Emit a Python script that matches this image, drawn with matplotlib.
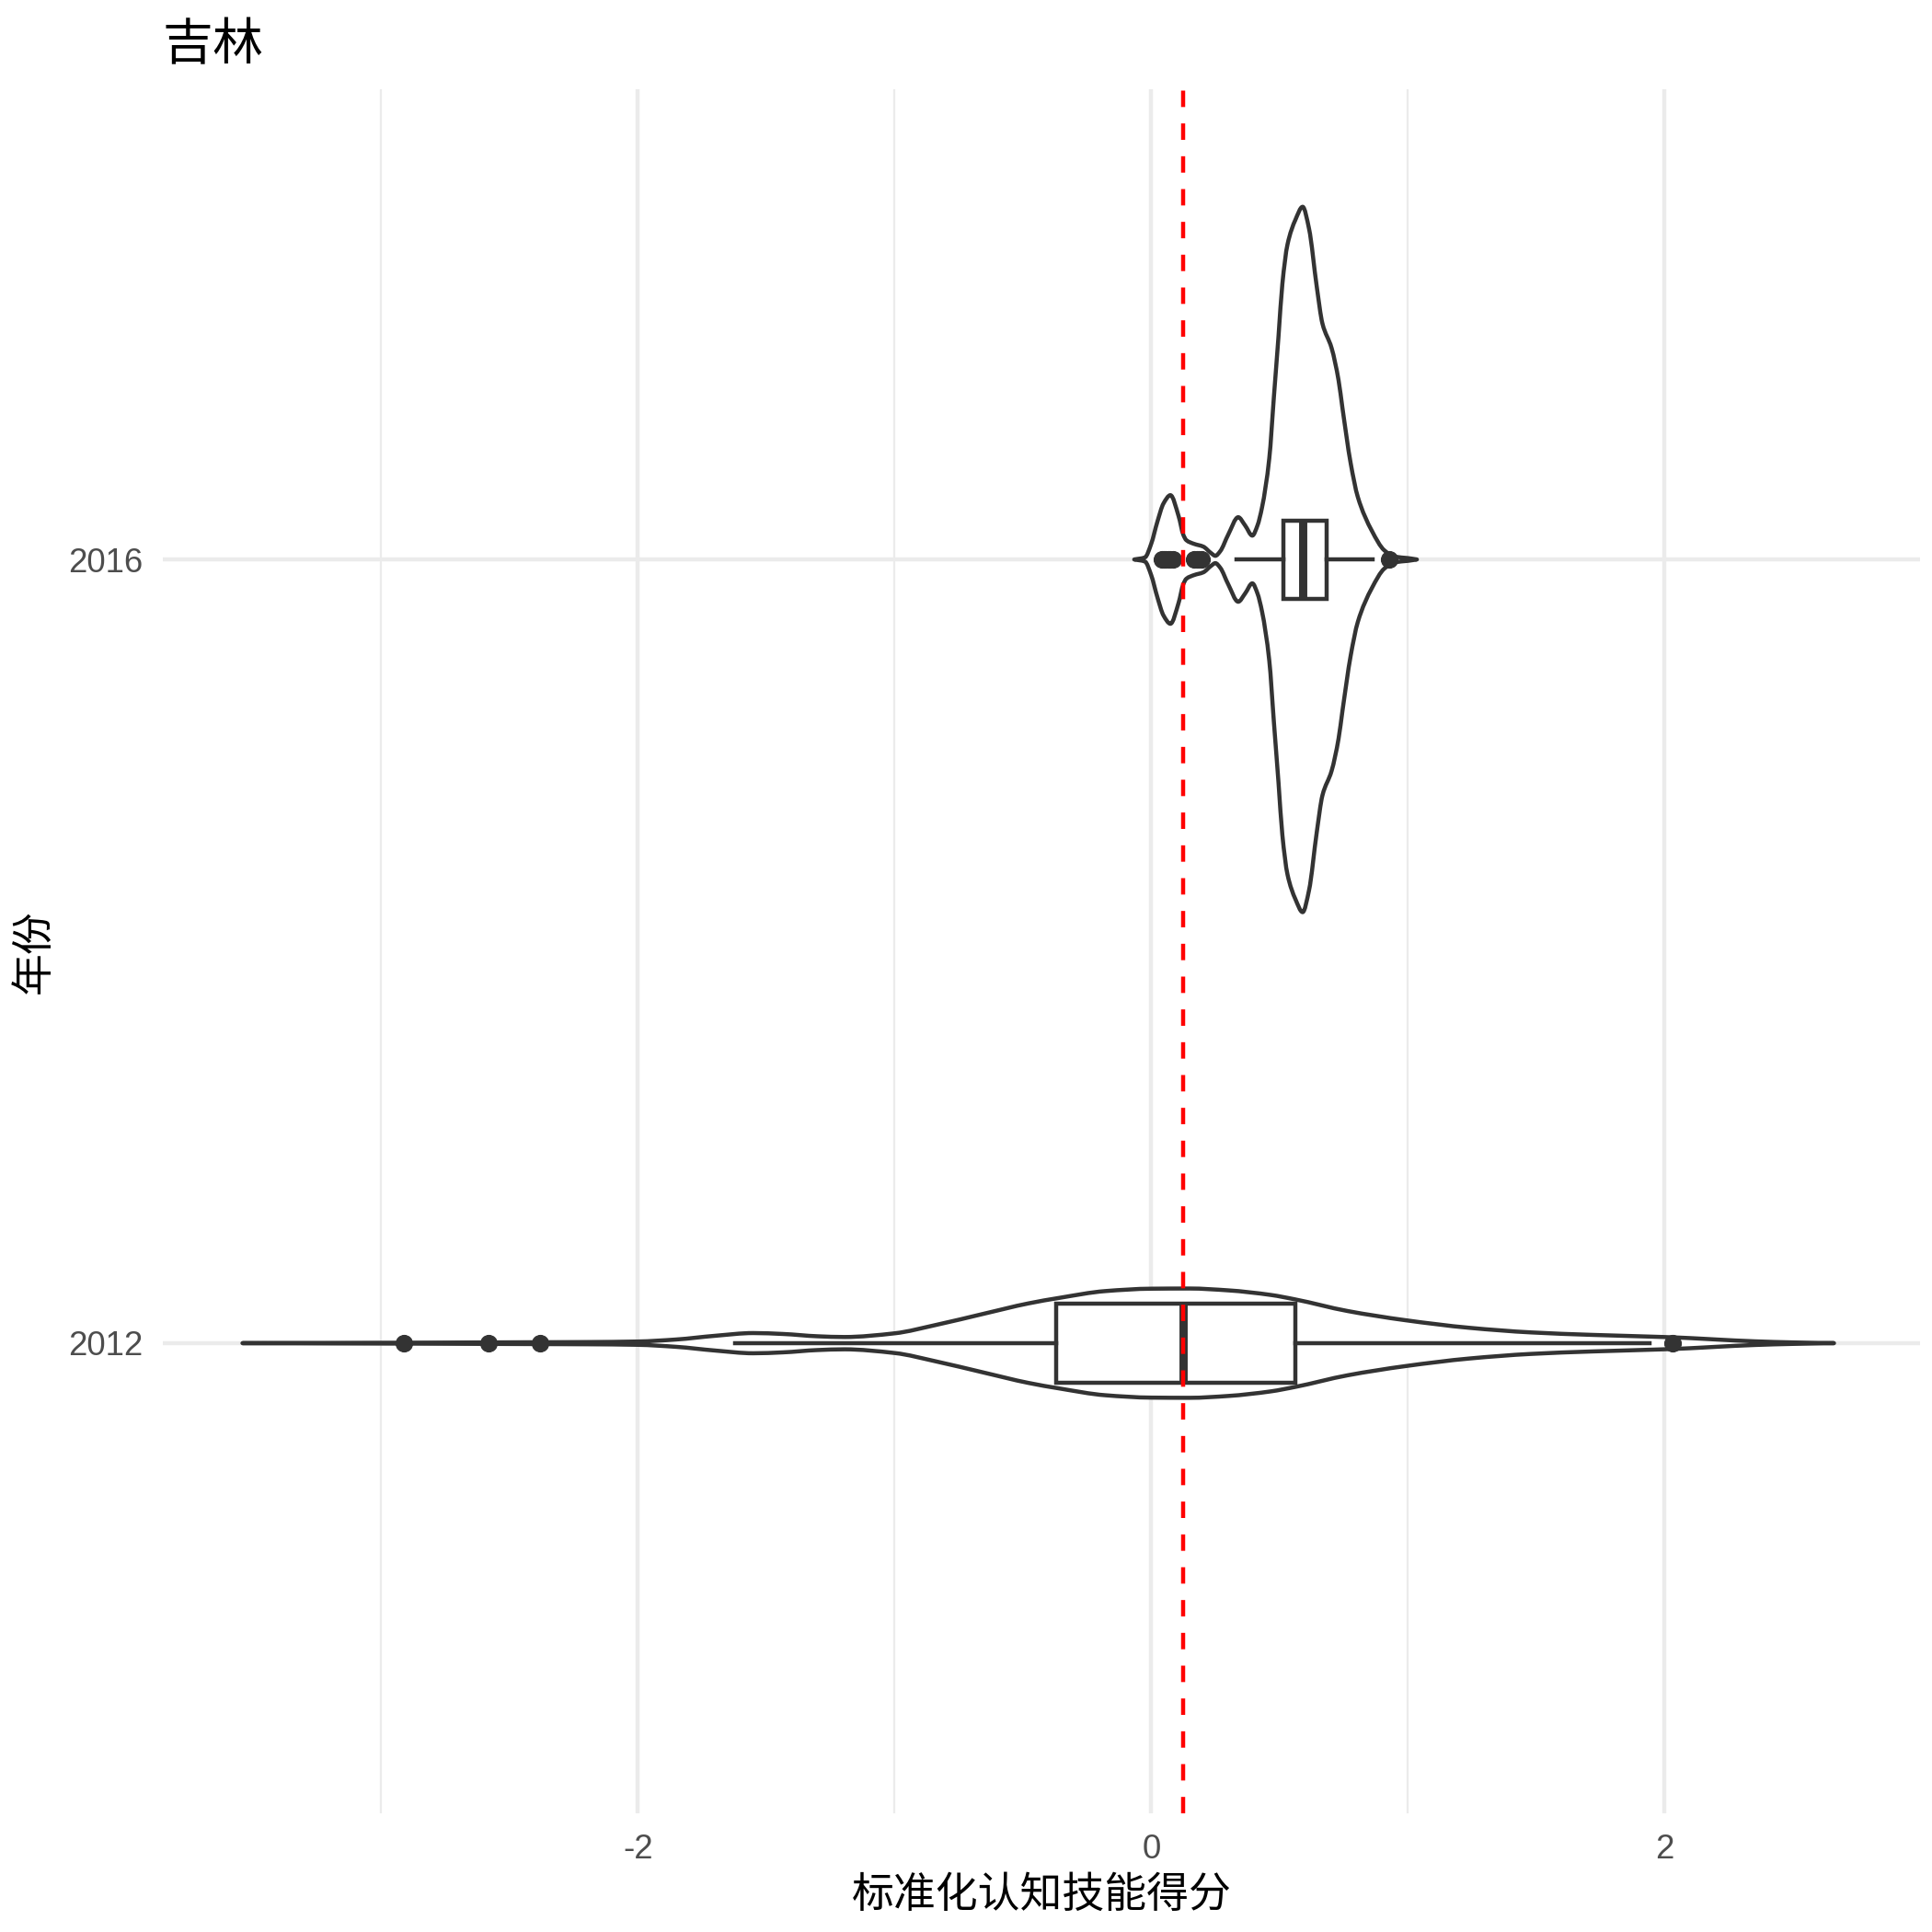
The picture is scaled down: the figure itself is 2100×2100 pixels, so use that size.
import matplotlib
matplotlib.use("Agg")
import matplotlib.pyplot as plt
from matplotlib.path import Path
from matplotlib.patches import PathPatch
import numpy as np

plt.rcParams['font.family'] = ['Liberation Sans', 'Noto Sans CJK SC', 'DejaVu Sans']

title = "吉林"
xlabel = "标准化认知技能得分"
ylabel = "年份"
years = ["2012", "2016"]
ref_line = 0.125

# violin outlines: score, relative half-width (2016 peak = 384)
v2012_x = [-3.54, -3.2, -2.9, -2.6, -2.4, -2.2, -2.0, -1.85, -1.7, -1.55, -1.434, -1.3,
           -1.195, -1.0, -0.836, -0.657, -0.478, -0.358, -0.179, 0.0, 0.15, 0.3, 0.466,
           0.56, 0.765, 0.99, 1.24, 1.48, 1.72, 1.995, 2.1, 2.2, 2.35, 2.5, 2.66]
v2012_w = [0.0, 0.3, 0.5, 0.8, 1.0, 1.2, 1.8, 4, 8, 11, 10, 7.5,
           6.7, 10.7, 20, 31.7, 43.3, 49.3, 56.7, 59.3, 59.5, 57.5, 52.5,
           47.7, 35, 25, 16.7, 11.7, 9, 6.7, 5.5, 4, 2, 0.8, 0.0]
v2016_x = [-0.066, -0.024, 0.0, 0.024, 0.048, 0.075, 0.107, 0.125, 0.137, 0.167, 0.203,
           0.233, 0.25, 0.269, 0.3, 0.339, 0.366, 0.394, 0.414, 0.432, 0.46, 0.478,
           0.496, 0.511, 0.531, 0.562, 0.59, 0.615, 0.645, 0.667, 0.703,
           0.73, 0.745, 0.777, 0.805, 0.86, 0.908, 0.95, 1.0, 1.035]
v2016_w = [0.0, 2.3, 17, 41, 61, 70, 47, 27, 21, 17, 14,
           7, 4, 9, 27, 46, 37, 26, 37, 57, 110, 177,
           243, 300, 343, 370, 384, 360, 297, 257, 230,
           195, 165, 105, 68, 31, 10, 3, 1.5, 0.0]

# box statistics
q1 = [-0.37, 0.516]
med = [0.125, 0.590]
q3 = [0.56, 0.684]
whis_lo = [-1.62, 0.334]
whis_hi = [1.94, 0.863]
fliers = [[-2.91, -2.58, -2.38, 2.03],
          [0.042, 0.05, 0.058, 0.066, 0.075, 0.084, 0.167, 0.177, 0.187, 0.197, 0.926]]

ink = "#333333"
lw = 1.07


def slopes(x, y):
    # monotone (pchip-like) tangents so the bezier outline never overshoots
    h = np.diff(x)
    d = np.diff(y) / h
    m = np.zeros_like(y)
    for i in range(1, len(x) - 1):
        if d[i - 1] * d[i] > 0:
            w1 = 2 * h[i] + h[i - 1]
            w2 = h[i] + 2 * h[i - 1]
            m[i] = (w1 + w2) / (w1 / d[i - 1] + w2 / d[i])
    m[0] = d[0]
    m[-1] = d[-1]
    return m


def violin_path(pos, xs, ws):
    x = np.array(xs, float)
    w = np.array(ws, float) / 384.0 * 0.45
    m = slopes(x, w)
    verts = [(x[0], pos + w[0])]
    codes = [Path.MOVETO]
    for i in range(len(x) - 1):
        h = x[i + 1] - x[i]
        verts += [(x[i] + h / 3, pos + w[i] + m[i] * h / 3),
                  (x[i + 1] - h / 3, pos + w[i + 1] - m[i + 1] * h / 3),
                  (x[i + 1], pos + w[i + 1])]
        codes += [Path.CURVE4] * 3
    for i in range(len(x) - 1, 0, -1):
        h = x[i] - x[i - 1]
        verts += [(x[i] - h / 3, pos - w[i] + m[i] * h / 3),
                  (x[i - 1] + h / 3, pos - w[i - 1] - m[i - 1] * h / 3),
                  (x[i - 1], pos - w[i - 1])]
        codes += [Path.CURVE4] * 3
    verts.append(verts[0])
    codes.append(Path.CLOSEPOLY)
    return Path(verts, codes)


fig = plt.figure(figsize=(7, 7), dpi=300)
ax = fig.add_axes([0.0843, 0.0614, 0.9095, 0.8924])

for pos, vx, vw in [(1, v2012_x, v2012_w), (2, v2016_x, v2016_w)]:
    ax.add_patch(PathPatch(violin_path(pos, vx, vw), facecolor="white", edgecolor=ink,
                           lw=lw, zorder=2, joinstyle="round"))

stats = []
for i in range(2):
    stats.append(dict(med=med[i], q1=q1[i], q3=q3[i], whislo=whis_lo[i],
                      whishi=whis_hi[i], fliers=fliers[i]))
ax.bxp(stats, positions=[1, 2], widths=0.1, orientation="horizontal",
       patch_artist=True, showcaps=False,
       boxprops=dict(facecolor="white", edgecolor=ink, lw=lw),
       whiskerprops=dict(color=ink, lw=lw),
       medianprops=dict(color=ink, lw=lw * 2, solid_capstyle="butt"),
       flierprops=dict(marker="o", markersize=4.3, markerfacecolor=ink,
                       markeredgecolor=ink, markeredgewidth=0.3),
       zorder=3, manage_ticks=False)

ax.axvline(ref_line, color="red", lw=lw, linestyle=(0, (4, 4)), zorder=4)

ax.set_xlim(-3.85, 2.995)
ax.set_ylim(0.4, 2.6)
ax.set_xticks([-2, 0, 2])
ax.set_xticklabels(["-2", "0", "2"])
ax.set_xticks([-3, -1, 1], minor=True)
ax.set_yticks([1, 2])
ax.set_yticklabels(years)
ax.grid(True, which="major", color="#EBEBEB", lw=1.07, zorder=0)
ax.grid(True, which="minor", axis="x", color="#EBEBEB", lw=0.53, zorder=0)
ax.set_axisbelow(True)
for s in ax.spines.values():
    s.set_visible(False)
ax.tick_params(which="both", length=0, labelsize=8.8, labelcolor="#4D4D4D", pad=5.3)

ax.set_xlabel(xlabel, fontsize=11, labelpad=2.5)
ax.set_ylabel(ylabel, fontsize=11, labelpad=3.3)
ax.set_title(title, loc="left", fontsize=13.2, pad=7.7)

fig.savefig("out.png", dpi=300, facecolor="white")
